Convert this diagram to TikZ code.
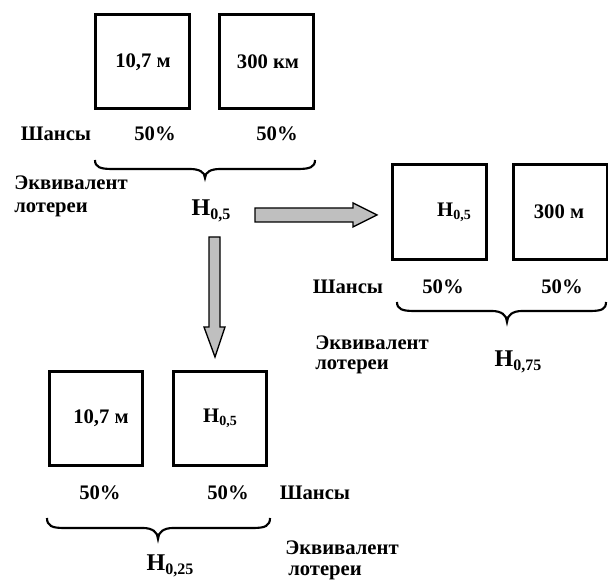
\documentclass[tikz,border=0pt]{standalone}
\usepackage{fontspec}
\setmainfont{Liberation Serif}
\newcommand{\Hsub}[3]{H\raisebox{-0.35ex}{\fontsize{#2}{#2}\selectfont #1}}
\tikzset{
  box/.style={draw, line width=2.2pt, minimum width=70pt, minimum height=71pt, inner sep=0pt},
  txt/.style={font=\bfseries\fontsize{15.5}{18}\selectfont, inner sep=0pt},
  bigtxt/.style={font=\bfseries\fontsize{18}{20}\selectfont, inner sep=0pt},
  garrow/.style={draw, line width=1pt, fill=gray!50},
  brc/.style={line width=1.6pt}
}
\begin{document}
\begin{tikzpicture}[x=0.75pt, y=-0.75pt]
\useasboundingbox (0,0) rectangle (608,580);
% top lottery
\node[box] (b1) at (142.5,61.5) {};
\node[box] (b2) at (266.5,61.5) {};
\node[txt] (t1) at (143,62) {10,7 м};
\node[txt] (t2) at (268,62) {300 км};
\node[txt] (s1) at (56,134) {Шансы};
\node[txt] (p1) at (155,134) {50\%};
\node[txt] (p2) at (277,134) {50\%};
\draw[brc] (95,160) .. controls (95,167) and (100,169) .. (112,169) -- (190,169)
  .. controls (199,169) and (205,172) .. (205,178)
  .. controls (205,172) and (211,169) .. (220,169) -- (298,169)
  .. controls (310,169) and (315,167) .. (315,160);
\node[txt, anchor=west] (e1) at (14,183) {Эквивалент};
\node[txt, anchor=west] (l1) at (14,210) {лотереи};
\node[bigtxt] (h1) at (211,211) {\Hsub{0,5}{12}{}};
% horizontal arrow
\draw[garrow] (255,208) -- (353,208) -- (353,203) -- (377,215) -- (353,227) -- (353,222) -- (255,222) -- cycle;
% vertical arrow
\draw[garrow] (209,237) -- (220,237) -- (220,327) -- (225,327) -- (215,357) -- (204,327) -- (209,327) -- cycle;
% right lottery
\node[box] (b3) at (439.5,212) {};
\node[box] (b4) at (560.5,212) {};
\node[txt] (t3) at (454,212) {\Hsub{0,5}{10.5}{}};
\node[txt] (t4) at (559,212) {300 м};
\node[txt] (s2) at (348,287) {Шансы};
\node[txt] (p3) at (443,287) {50\%};
\node[txt] (p4) at (562,287) {50\%};
\draw[brc] (397,302) .. controls (397,309) and (402,311) .. (414,311) -- (492,311)
  .. controls (501,311) and (507,315) .. (507,322)
  .. controls (507,315) and (513,311) .. (522,311) -- (590,311)
  .. controls (602,311) and (606,309) .. (606,302);
\node[txt, anchor=west] (e2) at (315,343) {Эквивалент};
\node[txt, anchor=west] (l2) at (315,367) {лотереи};
\node[bigtxt] (h2) at (518,362) {\Hsub{0,75}{12}{}};
% bottom lottery
\node[box] (b5) at (96,418.5) {};
\node[box] (b6) at (220,418.5) {};
\node[txt] (t5) at (101,418) {10,7 м};
\node[txt] (t6) at (220,418) {\Hsub{0,5}{10.5}{}};
\node[txt] (p5) at (100,493) {50\%};
\node[txt] (p6) at (228,493) {50\%};
\node[txt] (s3) at (315,493) {Шансы};
\draw[brc] (47,518) .. controls (47,526) and (52,528) .. (64,528) -- (143,528)
  .. controls (152,528) and (158,532) .. (158,539)
  .. controls (158,532) and (164,528) .. (173,528) -- (253,528)
  .. controls (265,528) and (270,526) .. (270,518);
\node[bigtxt] (h3) at (170,566) {\Hsub{0,25}{12}{}};
\node[txt, anchor=west] (e3) at (285,548) {Эквивалент};
\node[txt, anchor=west] (l3) at (288,573) {лотереи};
\end{tikzpicture}
\end{document}
